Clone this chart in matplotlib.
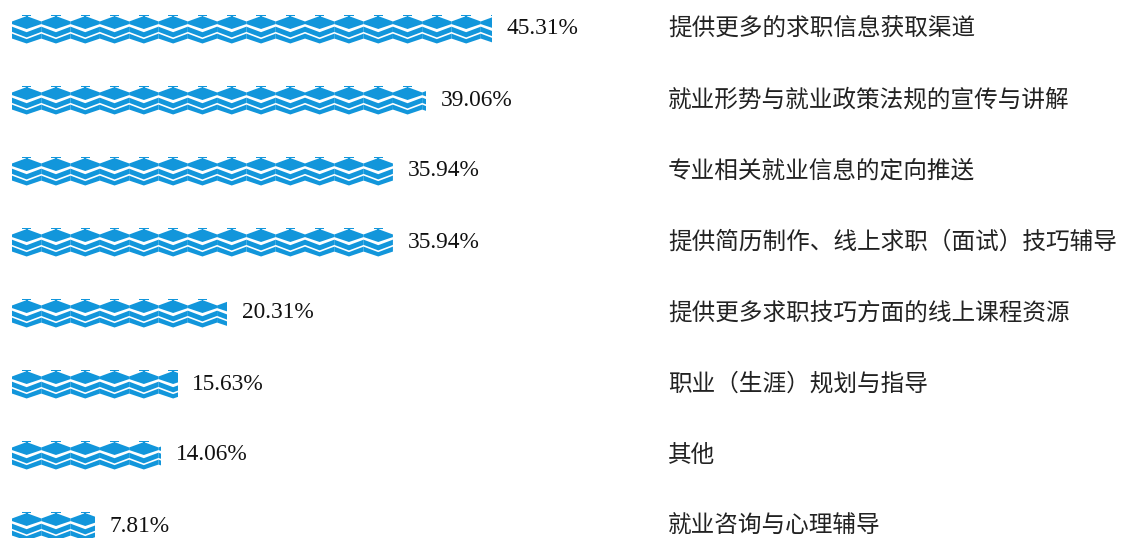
import math
import matplotlib
matplotlib.use('Agg')
import matplotlib.pyplot as plt
import matplotlib.transforms as mtransforms
from matplotlib.patches import Polygon, Rectangle

# data
categories = ['提供更多的求职信息获取渠道', '就业形势与就业政策法规的宣传与讲解', '专业相关就业信息的定向推送',
              '提供简历制作、线上求职（面试）技巧辅导', '提供更多求职技巧方面的线上课程资源',
              '职业（生涯）规划与指导', '其他', '就业咨询与心理辅导']
values = [45.31, 39.06, 35.94, 35.94, 20.31, 15.63, 14.06, 7.81]

blue = '#1296db'

# pixel layout of the original
W, H = 1123, 538
x0_px = 12        # where bars start
px_per_pct = 10.6
row0_px = 29      # centre of first row
row_px = 71       # row spacing
sym_w_px, sym_h_px = 29.3, 29

# one repeated symbol, unit box (u to the right, w downwards)
shapes = [
    [(0.34, 0.0), (0.66, 0.0), (0.66, 0.045), (0.34, 0.045)],
    [(0.47, 0.03), (0.53, 0.03), (0.53, 0.08), (0.47, 0.08)],
    [(0, 0.24), (0.5, 0.055), (1, 0.24), (1, 0.33), (0.5, 0.50), (0, 0.33)],
    [(0, 0.42), (0.5, 0.61), (1, 0.42), (1, 0.60), (0.5, 0.79), (0, 0.60)],
    [(0, 0.66), (0.5, 0.85), (1, 0.66), (1, 0.83), (0.5, 1.0), (0, 0.83)],
]

fig = plt.figure(figsize=(W / 100, H / 100), dpi=100)
ax = fig.add_axes([0, 0, 1, 1])
ax.axis('off')
ax.set_xlim(-x0_px / px_per_pct, (W - x0_px) / px_per_pct)
ax.set_ylim((H - row0_px) / row_px, -row0_px / row_px)

sw = sym_w_px / px_per_pct
sh = sym_h_px / row_px

for i, v in enumerate(values):
    clip = Rectangle((0, i - sh), v, 2 * sh, transform=ax.transData)
    n = math.ceil(v / sw)
    for k in range(n):
        for shp in shapes:
            pts = [(k * sw + u * sw, i - sh / 2 + w * sh) for u, w in shp]
            p = Polygon(pts, closed=True, facecolor=blue, edgecolor='none', lw=0)
            ax.add_patch(p)
            p.set_clip_path(clip)
    ax.annotate(f'{v:.2f}%', xy=(v, i), xytext=(10.5, 0), textcoords='offset points',
                va='center', ha='left', fontsize=16.8, color='#111',
                fontfamily=['Liberation Serif', 'DejaVu Serif'])

trans = mtransforms.blended_transform_factory(ax.transAxes, ax.transData)
for i, c in enumerate(categories):
    ax.text(668 / W, i, c, transform=trans, va='center', ha='left', fontsize=17,
            color='#222', fontfamily=['Noto Sans CJK SC', 'DejaVu Sans'])

fig.savefig('out.png', dpi=100)
